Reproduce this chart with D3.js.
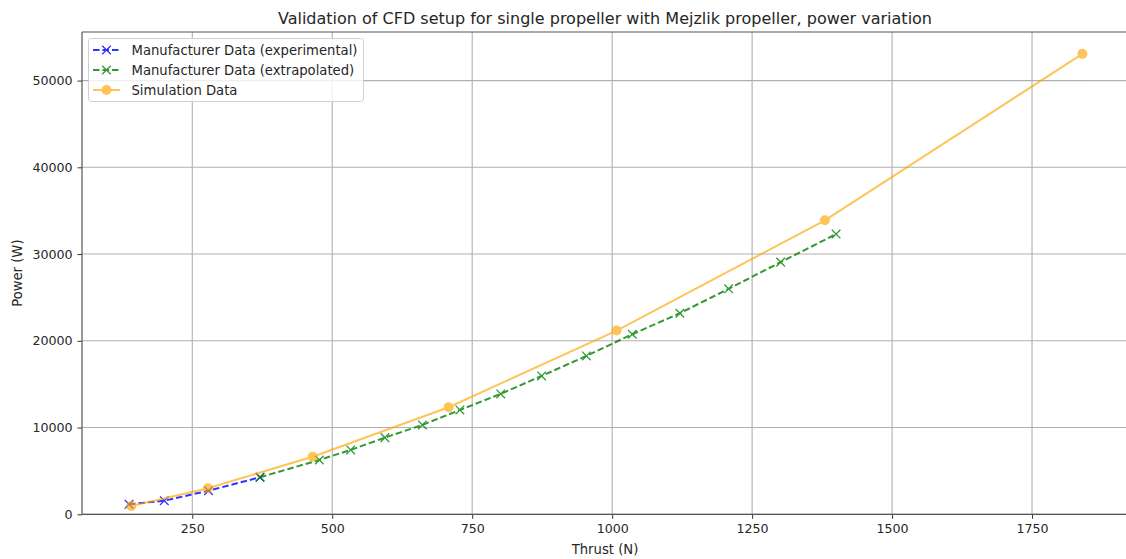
<!DOCTYPE html>
<html>
<head>
<meta charset="utf-8">
<script src="https://cdn.jsdelivr.net/npm/d3@7"></script>
<style>
  html, body { margin: 0; padding: 0; background: #fff; }
  svg { display: block; font-family: "DejaVu Sans", sans-serif; }
</style>
</head>
<body>
<svg id="chart" width="1126" height="559"></svg>
<script>
// ---- Data ----
const expThrust = [137, 200, 279, 371];
const expPower  = [1150, 1570, 2720, 4270];

const extThrust = [371, 477, 533, 594, 661, 728, 801, 874, 954, 1036, 1121, 1208, 1301, 1400];
const extPower  = [4270, 6260, 7420, 8840, 10300, 12030, 13880, 15950, 18260, 20760, 23180, 25990, 29070, 32300];

const simThrust = [141, 278, 465, 708, 1008, 1380, 1840];
const simPower  = [960, 3000, 6640, 12340, 21180, 33890, 53080];

const xTicks = [250, 500, 750, 1000, 1250, 1500, 1750];
const yTicks = [0, 10000, 20000, 30000, 40000, 50000];

const titleText = "Validation of CFD setup for single propeller with Mejzlik propeller, power variation";
const xLabel = "Thrust (N)";
const yLabel = "Power (W)";
const seriesNames = ["Manufacturer Data (experimental)", "Manufacturer Data (extrapolated)", "Simulation Data"];

// ---- Layout ----
const svg = d3.select("#chart");
const pL = 82, pR = 1130, pT = 32, pB = 514.3;

const x = d3.scaleLinear().domain([53, 1925]).range([pL, pR]);
const y = d3.scaleLinear().domain([0, 55600]).range([pB, pT]);

const zip = (a, b) => a.map((v, i) => [v, b[i]]);
const series = [
  { name: seriesNames[0], data: zip(expThrust, expPower), color: "blue", opacity: 0.8, dash: "6.5,3", marker: "x" },
  { name: seriesNames[1], data: zip(extThrust, extPower), color: "green", opacity: 0.8, dash: "6.5,3", marker: "x" },
  { name: seriesNames[2], data: zip(simThrust, simPower), color: "orange", opacity: 0.65, dash: null, marker: "o" }
];

// clip
svg.append("defs").append("clipPath").attr("id", "clip")
  .append("rect").attr("x", pL).attr("y", pT).attr("width", pR - pL).attr("height", pB - pT);

// grid
const grid = svg.append("g").attr("class", "grid");
grid.selectAll("line.gx").data(xTicks).enter().append("line")
  .attr("x1", d => x(d)).attr("x2", d => x(d)).attr("y1", pT).attr("y2", pB)
  .attr("stroke", "#b0b0b0").attr("stroke-width", 1.1);
grid.selectAll("line.gy").data(yTicks).enter().append("line")
  .attr("x1", pL).attr("x2", pR).attr("y1", d => y(d)).attr("y2", d => y(d))
  .attr("stroke", "#b0b0b0").attr("stroke-width", 1.1);

// axes
const xAxis = d3.axisBottom(x).tickValues(xTicks).tickSize(4.5).tickPadding(5).tickFormat(d3.format("d"));
const yAxis = d3.axisLeft(y).tickValues(yTicks).tickSize(4.5).tickPadding(5).tickFormat(d3.format("d"));

const gx = svg.append("g").attr("transform", `translate(0,${pB})`).call(xAxis);
const gy = svg.append("g").attr("transform", `translate(${pL},0)`).call(yAxis);
[gx, gy].forEach(g => {
  g.select(".domain").remove();
  g.selectAll(".tick line").attr("stroke", "#333").attr("stroke-width", 1);
  g.selectAll(".tick text").attr("fill", "#262626").style("font-size", "12.6px").style("font-family", "DejaVu Sans, sans-serif");
});

// spines
const spine = (x1, y1, x2, y2) => svg.append("line").attr("x1", x1).attr("y1", y1).attr("x2", x2).attr("y2", y2)
  .attr("stroke", "#555").attr("stroke-width", 1.2);
spine(pL, pT, pL, pB);
spine(pL, pB, pR, pB);
spine(pL, pT, pR, pT);
spine(pR, pT, pR, pB);

// series
const line = d3.line().x(d => x(d[0])).y(d => y(d[1]));
const plot = svg.append("g").attr("clip-path", "url(#clip)");

function drawMarker(g, cx, cy, s) {
  if (s.marker === "x") {
    const r = 4.3;
    g.append("path")
      .attr("d", `M${cx - r},${cy - r}L${cx + r},${cy + r}M${cx - r},${cy + r}L${cx + r},${cy - r}`)
      .attr("stroke", s.color).attr("stroke-width", 1.3).attr("fill", "none");
  } else {
    g.append("circle").attr("cx", cx).attr("cy", cy).attr("r", 5).attr("fill", s.color);
  }
}

series.forEach(s => {
  const g = plot.append("g").attr("opacity", s.opacity);
  g.append("path").datum(s.data).attr("d", line)
    .attr("fill", "none").attr("stroke", s.color).attr("stroke-width", 2)
    .attr("stroke-dasharray", s.dash);
  s.data.forEach(d => drawMarker(g, x(d[0]), y(d[1]), s));
});

// title & labels
svg.append("text").attr("x", (pL + pR) / 2 - 1).attr("y", 24).attr("text-anchor", "middle")
  .style("font-size", "16px").attr("fill", "#262626").text(titleText);
svg.append("text").attr("x", (pL + pR) / 2 - 1).attr("y", 554).attr("text-anchor", "middle")
  .style("font-size", "13.2px").attr("fill", "#262626").text(xLabel);
svg.append("text").attr("transform", `translate(22,${(pT + pB) / 2}) rotate(-90)`).attr("text-anchor", "middle")
  .style("font-size", "13.2px").attr("fill", "#262626").text(yLabel);

// legend
const lg = svg.append("g");
lg.append("rect").attr("x", 88.5).attr("y", 38.5).attr("width", 275).attr("height", 63).attr("rx", 3)
  .attr("fill", "#fff").attr("fill-opacity", 0.8).attr("stroke", "#d0d0d0").attr("stroke-width", 1);
series.forEach((s, i) => {
  const cy = 50 + i * 20;
  const g = lg.append("g").attr("opacity", s.opacity);
  g.append("line").attr("x1", 93).attr("x2", 120).attr("y1", cy).attr("y2", cy)
    .attr("stroke", s.color).attr("stroke-width", 2).attr("stroke-dasharray", s.dash);
  drawMarker(g, 106.5, cy, s);
  lg.append("text").attr("x", 131.5).attr("y", cy + 4.6).style("font-size", "13.2px").attr("fill", "#262626").text(s.name);
});
</script>
</body>
</html>
